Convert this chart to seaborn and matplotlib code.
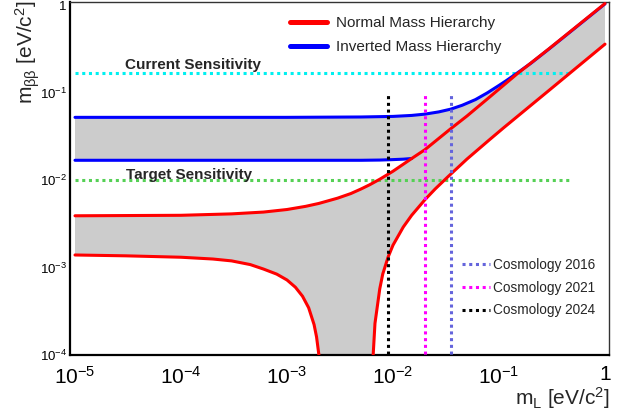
import matplotlib
matplotlib.use("Agg")
import matplotlib.pyplot as plt
from matplotlib.lines import Line2D
from matplotlib.ticker import FixedLocator, FixedFormatter, NullFormatter
import seaborn as sns

# ---------------- data ----------------
nh_upper_x = [1e-5, 1e-4, 3e-4, 6e-4, 1e-3, 1.5e-3, 2e-3, 3e-3, 4e-3, 5e-3, 6e-3, 7.5e-3,
              0.01, 0.015, 0.02, 0.035, 0.05, 0.08, 0.147, 0.3, 1.0]
nh_upper_y = [0.0039, 0.00395, 0.0041, 0.0043, 0.0046, 0.0050, 0.0054, 0.0062, 0.0070, 0.0079,
              0.0088, 0.0102, 0.0126, 0.0176, 0.0222, 0.0385, 0.054, 0.087, 0.162, 0.32, 1.04]

nh_lower_left_x = [1e-5, 3e-5, 1e-4, 2e-4, 3e-4, 4.5e-4, 6e-4, 8e-4, 1e-3, 1.2e-3, 1.4e-3,
                   1.6e-3, 1.8e-3, 1.9e-3, 2.0e-3, 2.06e-3, 2.12e-3]
nh_lower_left_y = [0.00139, 0.00136, 0.00131, 0.00125, 0.00119, 0.00108, 0.00096, 0.00084,
                   0.00072, 0.000595, 0.00047, 0.000347, 0.000223, 0.000161, 0.00010,
                   0.000062, 0.000025]

nh_lower_right_x = [6.35e-3, 6.5e-3, 6.76e-3, 7.5e-3, 8e-3, 9e-3, 0.01, 0.0125, 0.015, 0.02,
                    0.025, 0.033, 0.05, 0.082, 0.11, 0.3, 1.0]
nh_lower_right_y = [0.000025, 0.00010, 0.00023, 0.00057, 0.00084, 0.00132, 0.0018, 0.0029,
                    0.00395, 0.00595, 0.0079, 0.0109, 0.0174, 0.0291, 0.0393, 0.107, 0.357]

ih_upper_x = [1e-5, 1e-3, 5e-3, 0.01, 0.015, 0.02, 0.027, 0.035, 0.045, 0.06, 0.0775, 0.1,
              0.118, 0.147, 0.2, 0.3, 1.0]
ih_upper_y = [0.052, 0.052, 0.0525, 0.0533, 0.0547, 0.0566, 0.060, 0.0645, 0.0715, 0.083,
              0.099, 0.1205, 0.1375, 0.1655, 0.216, 0.318, 1.03]

ih_lower_x = [1e-5, 1e-3, 5e-3, 7.5e-3, 0.01, 0.0125, 0.015]
ih_lower_y = [0.0168, 0.0168, 0.0168, 0.0169, 0.0171, 0.0173, 0.0176]

sens_labels = ["Current Sensitivity", "Target Sensitivity"]
sens_values = [0.165, 0.010]
sens_colors = ["#00f0f0", "#55d055"]
sens_xrange = [1e-5, 0.48]

cosmo_labels = ["Cosmology 2016", "Cosmology 2021", "Cosmology 2024"]
cosmo_values = [0.035, 0.020, 0.009]
cosmo_colors = ["#6464dc", "#ff00ff", "#000000"]
cosmo_top = 0.1

hier_labels = ["Normal Mass Hierarchy", "Inverted Mass Hierarchy"]
hier_colors = ["#ff0000", "#0000ff"]

x_ticks = [1e-5, 1e-4, 1e-3, 1e-2, 1e-1, 1]
x_ticklabels = [r"$10^{-5}$", r"$10^{-4}$", r"$10^{-3}$", r"$10^{-2}$", r"$10^{-1}$", r"$1$"]
y_ticks = [1e-4, 1e-3, 1e-2, 1e-1, 1]
y_ticklabels = [r"$10^{-4}$", r"$10^{-3}$", r"$10^{-2}$", r"$10^{-1}$", r"$1$"]

# ---------------- style ----------------
sns.set_theme(style="white")
plt.rcParams["font.family"] = ["Liberation Sans", "DejaVu Sans"]
plt.rcParams["mathtext.fontset"] = "custom"
plt.rcParams["mathtext.rm"] = "Liberation Sans"
plt.rcParams["mathtext.it"] = "Liberation Sans:italic"
plt.rcParams["mathtext.bf"] = "Liberation Sans:bold"
plt.rcParams["mathtext.default"] = "regular"

fig = plt.figure(figsize=(6.35, 4.17), dpi=100)
ax = fig.add_axes([70 / 635, 1 - 355 / 417, (609 - 70) / 635, (355 - 2) / 417])
ax.set_xscale("log")
ax.set_yscale("log")
ax.set_xlim(10 ** (-5 - 5 / 106), 10 ** (4 / 106))
ax.set_ylim(1e-4, 10 ** (3 / 87.5))

gray = "#cccccc"
# NH band polygon
poly_x = nh_upper_x + nh_lower_right_x[::-1] + nh_lower_left_x[::-1]
poly_y = nh_upper_y + nh_lower_right_y[::-1] + nh_lower_left_y[::-1]
ax.fill(poly_x, poly_y, color=gray, lw=0, zorder=1)
# IH band polygon
ext_x = [x for x in nh_upper_x if x > ih_lower_x[-1]]
ext_y = [y for x, y in zip(nh_upper_x, nh_upper_y) if x > ih_lower_x[-1]]
ih_px = ih_lower_x + ext_x + ih_upper_x[::-1]
ih_py = ih_lower_y + ext_y + ih_upper_y[::-1]
ax.fill(ih_px, ih_py, color=gray, lw=0, zorder=1)

lw = 2.2
dot = (0, (1, 1.2))
# sensitivity lines
for v, c in zip(sens_values, sens_colors):
    sns.lineplot(x=sens_xrange, y=[v, v], color=c, lw=lw, linestyle=dot, ax=ax,
                 sort=False, estimator=None, zorder=2)

# curves
sns.lineplot(x=ih_upper_x, y=ih_upper_y, color=hier_colors[1], lw=lw, ax=ax,
             sort=False, estimator=None, zorder=3)
sns.lineplot(x=ih_lower_x, y=ih_lower_y, color=hier_colors[1], lw=lw, ax=ax,
             sort=False, estimator=None, zorder=3)
sns.lineplot(x=nh_upper_x, y=nh_upper_y, color=hier_colors[0], lw=lw, ax=ax,
             sort=False, estimator=None, zorder=4)
sns.lineplot(x=nh_lower_left_x, y=nh_lower_left_y, color=hier_colors[0], lw=lw, ax=ax,
             sort=False, estimator=None, zorder=4)
sns.lineplot(x=nh_lower_right_x, y=nh_lower_right_y, color=hier_colors[0], lw=lw, ax=ax,
             sort=False, estimator=None, zorder=4)

# cosmology lines
for v, c in zip(cosmo_values, cosmo_colors):
    sns.lineplot(x=[v, v], y=[5e-5, cosmo_top], color=c, lw=lw, linestyle=dot, ax=ax,
                 sort=False, estimator=None, zorder=5)

# sensitivity labels
ax.text(1.3e-4, 0.206, sens_labels[0], fontsize=11, fontweight="bold",
        ha="center", va="center", zorder=6)
ax.text(1.2e-4, 0.0114, sens_labels[1], fontsize=11, fontweight="bold",
        ha="center", va="center", zorder=6)

# legends
h1 = [Line2D([], [], color=c, lw=3.6) for c in hier_colors]
leg1 = ax.legend(h1, hier_labels, loc="upper left", bbox_to_anchor=(290 / 635, 1 - 16 / 417),
                 bbox_transform=fig.transFigure, frameon=False, fontsize=11,
                 handlelength=2.42, handletextpad=0.59, labelspacing=0.68, borderpad=0,
                 borderaxespad=0)
ax.add_artist(leg1)
h2 = [Line2D([], [], color=c, lw=lw, linestyle=dot) for c in cosmo_colors]
leg2 = ax.legend(h2, cosmo_labels, loc="upper left", bbox_to_anchor=(462 / 635, 1 - 258 / 417),
                 bbox_transform=fig.transFigure, frameon=False, fontsize=9.8,
                 handlelength=2.06, handletextpad=0.22, labelspacing=0.64, borderpad=0,
                 borderaxespad=0)

# axes style
for s in ["left", "bottom"]:
    ax.spines[s].set_linewidth(1.6)
    ax.spines[s].set_color("black")
for s in ["top", "right"]:
    ax.spines[s].set_linewidth(1.0)
    ax.spines[s].set_color("#333333")

ax.xaxis.set_major_locator(FixedLocator(x_ticks))
ax.xaxis.set_major_formatter(FixedFormatter(x_ticklabels))
ax.yaxis.set_major_locator(FixedLocator(y_ticks))
ax.yaxis.set_major_formatter(FixedFormatter(y_ticklabels))
xminor = [m * 10.0 ** e for e in range(-6, 1) for m in range(2, 10)]
ax.xaxis.set_minor_locator(FixedLocator(xminor))
ax.yaxis.set_minor_locator(FixedLocator(xminor))
ax.xaxis.set_minor_formatter(NullFormatter())
ax.yaxis.set_minor_formatter(NullFormatter())
ax.tick_params(axis="x", which="major", direction="in", length=10.5, width=1.1,
               labelsize=15, pad=7.5, colors="black", top=False)
ax.tick_params(axis="x", which="minor", direction="in", length=5.5, width=1.0, top=False)
ax.tick_params(axis="y", which="major", direction="in", length=13, width=1.1,
               labelsize=9.5, pad=2, colors="black", right=False)
ax.tick_params(axis="y", which="minor", direction="in", length=6.5, width=1.0, right=False)

fig.text(610 / 635, 1 - 398 / 417, r"m$_{L}$ [eV/c$^{2}$]", fontsize=15,
         ha="right", va="center")
fig.text(28 / 635, 1 - 1 / 417, r"m$_{\beta\beta}$ [eV/c$^{2}$]", fontsize=15,
         ha="center", va="top", rotation=90)

fig.savefig("out.png", dpi=100)
